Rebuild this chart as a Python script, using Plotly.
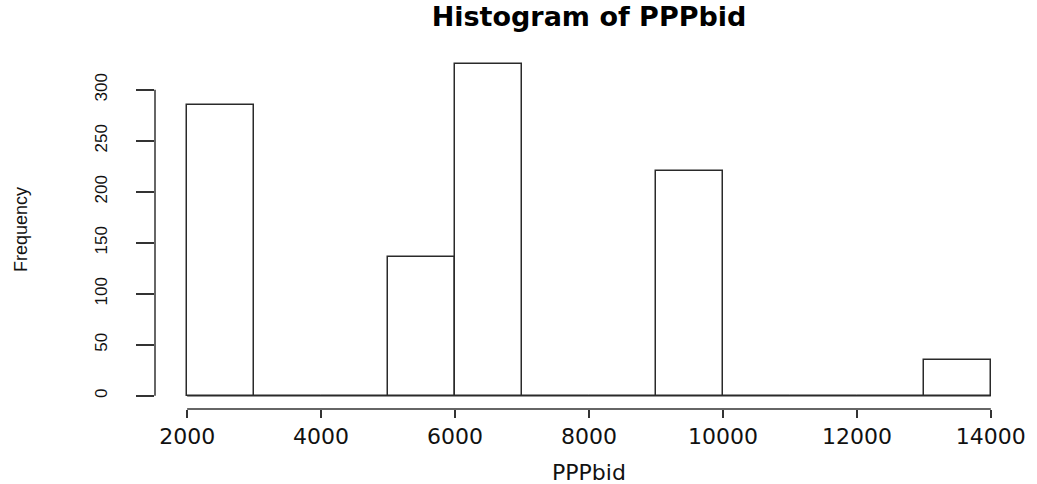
import plotly.graph_objects as go

# Data
bin_edges = [2000, 3000, 4000, 5000, 6000, 7000, 8000, 9000, 10000, 11000, 12000, 13000, 14000]
counts = [285, 0, 0, 136, 325, 0, 0, 220, 0, 0, 0, 35]
x_ticks = [2000, 4000, 6000, 8000, 10000, 12000, 14000]
y_ticks = [0, 50, 100, 150, 200, 250, 300]
title_text = "Histogram of PPPbid"
x_label = "PPPbid"
y_label = "Frequency"

centers = [(a + b) / 2 for a, b in zip(bin_edges[:-1], bin_edges[1:])]
widths = [b - a for a, b in zip(bin_edges[:-1], bin_edges[1:])]

# R-style axis limits (4% extension)
xr = bin_edges[-1] - bin_edges[0]
xmin, xmax = bin_edges[0] - 0.04 * xr, bin_edges[-1] + 0.04 * xr
ymax_d = max(counts)
ymin, ymax = -0.04 * ymax_d, ymax_d * 1.04

fig = go.Figure()
fig.add_trace(go.Bar(
    x=centers, y=counts, width=widths,
    marker=dict(color="white", line=dict(color="#2a2a2a", width=1.5)),
    hoverinfo="x+y", showlegend=False,
))

shapes = [
    # baseline of zero-count bins (R draws them as flat rectangles)
    dict(type="line", xref="x", yref="y", x0=bin_edges[0], x1=bin_edges[-1], y0=0, y1=0,
         line=dict(color="#2a2a2a", width=1.5), layer="above"),
    # R-style x axis line
    dict(type="line", xref="x", yref="paper", x0=x_ticks[0], x1=x_ticks[-1], y0=0, y1=0,
         line=dict(color="#333333", width=1.5)),
    # R-style y axis line
    dict(type="line", xref="paper", yref="y", x0=0, x1=0, y0=y_ticks[0], y1=y_ticks[-1],
         line=dict(color="#333333", width=1.5)),
]

fig.update_layout(
    width=1037, height=484,
    margin=dict(l=155, r=14, t=51, b=75),
    paper_bgcolor="white", plot_bgcolor="white",
    bargap=0,
    shapes=shapes,
    title=dict(text="<b>" + title_text + "</b>", x=0.5, xref="paper", xanchor="center",
               y=1 - 17 / 484, yref="container", yanchor="middle",
               font=dict(family="DejaVu Sans", size=27, color="black")),
    xaxis=dict(range=[xmin, xmax], tickvals=x_ticks, ticktext=[str(v) for v in x_ticks],
               ticks="outside", ticklen=8, tickwidth=1.5, tickcolor="#333333",
               showline=False, showgrid=False, zeroline=False,
               tickfont=dict(family="DejaVu Sans", size=22, color="#111111")),
    yaxis=dict(range=[ymin, ymax], tickvals=y_ticks, ticktext=[str(v) for v in y_ticks],
               ticks="outside", ticklen=18, tickwidth=1.5, tickcolor="#333333",
               tickangle=-90, ticklabelstandoff=22,
               showline=False, showgrid=False, zeroline=False,
               tickfont=dict(family="Liberation Sans", size=17, color="#111111")),
    annotations=[
        dict(text=x_label, xref="paper", yref="paper", x=0.5, y=-(472 - 409) / 358,
             xanchor="center", yanchor="middle", showarrow=False,
             font=dict(family="DejaVu Sans", size=22, color="#111111")),
        dict(text=y_label, xref="paper", yref="paper", x=-(155 - 21) / 868, y=0.5,
             xanchor="center", yanchor="middle", textangle=-90, showarrow=False,
             font=dict(family="Liberation Sans", size=18, color="#111111")),
    ],
)

fig.write_html("out.html",
               config={"displayModeBar": False},
               post_script="document.body.style.margin='0';document.body.style.overflow='hidden';")
